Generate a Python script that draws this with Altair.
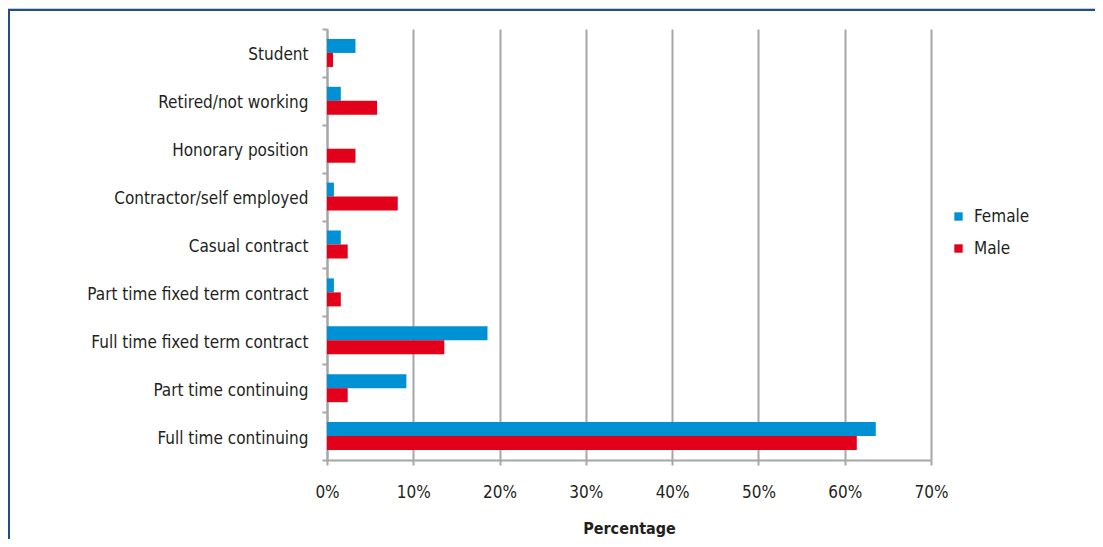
import altair as alt
import pandas as pd

categories = [
    "Student",
    "Retired/not working",
    "Honorary position",
    "Contractor/self employed",
    "Casual contract",
    "Part time fixed term contract",
    "Full time fixed term contract",
    "Part time continuing",
    "Full time continuing",
]
female = [3.3, 1.6, 0.0, 0.8, 1.6, 0.8, 18.6, 9.2, 63.6]
male = [0.7, 5.8, 3.3, 8.2, 2.4, 1.6, 13.6, 2.4, 61.4]
genders = ["Female", "Male"]
colors = ["#0090d4", "#e2001a"]

rows = []
for c, f, m in zip(categories, female, male):
    rows.append({"Category": c, "Gender": "Female", "Value": f / 100})
    rows.append({"Category": c, "Gender": "Male", "Value": m / 100})
df = pd.DataFrame(rows)

FONT = "DejaVu Sans Condensed, Roboto, sans-serif"
W, H = 604, 431

bars = alt.Chart(df).mark_bar().encode(
    x=alt.X("Value:Q",
            scale=alt.Scale(domain=[0, 0.7], nice=False),
            axis=alt.Axis(format=".0%", values=[0, .1, .2, .3, .4, .5, .6, .7],
                          title="Percentage", grid=True, gridColor="#a6a6a6",
                          gridWidth=2, domainColor="#a6a6a6", domainWidth=2,
                          tickColor="#a6a6a6", tickWidth=2, tickSize=5,
                          labelFlush=False,
                          labelPadding=19, labelFontSize=17, labelColor="#231f20",
                          labelFont=FONT, titleFont=FONT, titleFontSize=16,
                          titleFontWeight="bold", titleColor="#231f20",
                          titlePadding=20)),
    y=alt.Y("Category:N", sort=categories,
            scale=alt.Scale(paddingInner=0, paddingOuter=0),
            axis=alt.Axis(title=None, tickBand="extent", domainColor="#a6a6a6",
                          domainWidth=2, tickColor="#a6a6a6", tickWidth=2,
                          tickSize=5, labelPadding=14, labelFontSize=17,
                          labelLimit=0, labelOffset=2,
                          labelColor="#231f20", labelFont=FONT, grid=False)),
    yOffset=alt.YOffset("Gender:N", sort=genders,
                        scale=alt.Scale(paddingInner=0, paddingOuter=0.71)),
    color=alt.Color("Gender:N", sort=genders,
                    scale=alt.Scale(domain=genders, range=colors),
                    legend=alt.Legend(title=None, orient="none", legendX=623,
                                      legendY=179, symbolType="square",
                                      symbolSize=70, symbolStrokeWidth=0,
                                      labelFontSize=17, labelFont=FONT,
                                      labelColor="#231f20", labelOffset=7,
                                      rowPadding=14)),
)

frame_top = alt.Chart(df).mark_rule(color="#1f4e8c", strokeWidth=2).encode(
    x=alt.value(-330), x2=alt.value(W + 400), y=alt.value(-19)
)
frame_top_light = alt.Chart(df).mark_rule(color="#c8cdd4", strokeWidth=1).encode(
    x=alt.value(-330), x2=alt.value(W + 400), y=alt.value(-21)
)
frame_left = alt.Chart(df).mark_rule(color="#1f4e8c", strokeWidth=2).encode(
    x=alt.value(-318), y=alt.value(-19), y2=alt.value(H + 200)
)

chart = alt.layer(frame_top_light, frame_top, frame_left, bars).properties(
    width=W, height=H,
    autosize=alt.AutoSizeParams(type="none"),
    padding={"left": 319, "top": 21, "right": 164, "bottom": 79},
    background="white",
).configure_view(stroke=None)

chart.save("out.html", embed_options={"renderer": "svg", "actions": False})
